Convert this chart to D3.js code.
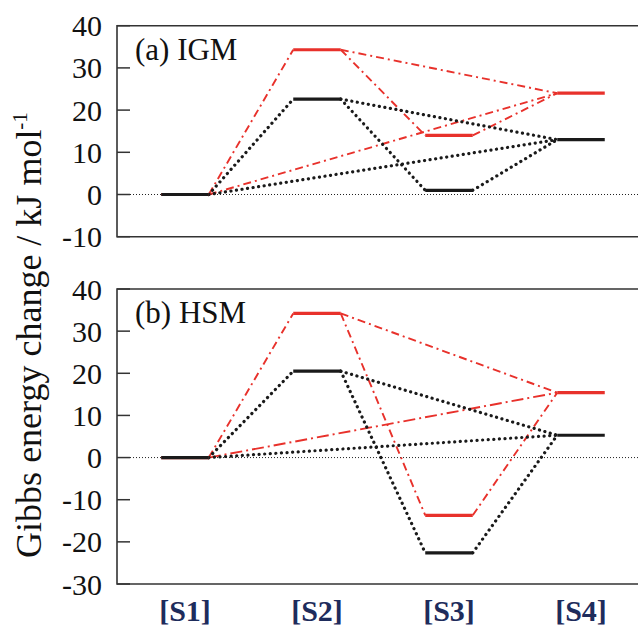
<!DOCTYPE html>
<html lang="en">
  <head>
    <meta charset="utf-8" />
    <title>Gibbs energy change</title>
    <script src="https://cdn.jsdelivr.net/npm/d3@7"></script>
    <style>
      body { margin: 0; background: #fff; }
    </style>
  </head>
  <body>
    <svg id="chart" width="638" height="628"></svg>

    <script>
      // states along the reaction path
      const states = ["[S1]", "[S2]", "[S3]", "[S4]"];
      // Gibbs energy levels, kJ/mol
      const igmRed = [0, 34.3, 14.0, 24.0];
      const igmBlack = [0, 22.6, 1.0, 13.0];
      const hsmRed = [0, 34.2, -13.7, 15.4];
      const hsmBlack = [0, 20.5, -22.6, 5.3];
      // which levels are joined (from, to)
      const links = [[0, 1], [1, 2], [1, 3], [2, 3], [0, 3]];
      const igmTicks = [-10, 0, 10, 20, 30, 40];
      const hsmTicks = [-30, -20, -10, 0, 10, 20, 30, 40];

      const serif = "'Liberation Serif', serif";
      const svg = d3.select("#chart");
      const red = "#e8312b", black = "#1a1a1a", navy = "#1e2c5c";
      const half = 0.18; // half width of a level bar, in x units

      const x = d3.scaleLinear().domain([0.5, 4.5]).range([119, 647]);

      function panel(label, red_vals, black_vals, ticks, yDomain, yRange, longDash) {
        const y = d3.scaleLinear().domain(yDomain).range(yRange);
        const g = svg.append("g");
        const left = x(0.5) - 2;

        // frame (right side falls off the picture)
        g.append("path")
          .attr("d", `M660,${y(yDomain[1])}H${left}V${y(yDomain[0])}H660`)
          .attr("fill", "none")
          .attr("stroke", "#333")
          .attr("stroke-width", 1.6);

        // ticks
        g.selectAll(".tick").data(ticks).enter().append("line")
          .attr("x1", left).attr("x2", left + 13)
          .attr("y1", d => y(d)).attr("y2", d => y(d))
          .attr("stroke", "#333").attr("stroke-width", 1.5);

        g.selectAll(".tl").data(ticks).enter().append("text")
          .attr("x", 102)
          .attr("y", d => y(d))
          .attr("dy", "0.35em")
          .attr("text-anchor", "end")
          .attr("font-family", serif)
          .attr("font-size", 30)
          .attr("fill", "#111")
          .text(d => d);

        // zero line
        g.append("line")
          .attr("x1", left + 13).attr("x2", 640)
          .attr("y1", y(0)).attr("y2", y(0))
          .attr("stroke", "#222").attr("stroke-width", 1)
          .attr("stroke-dasharray", "1,2");

        // connectors
        function connectors(vals, color, dash, width, cap) {
          g.selectAll(null).data(links).enter().append("line")
            .attr("x1", d => x(d[0] + 1 + half))
            .attr("y1", d => y(vals[d[0]]))
            .attr("x2", d => x(d[1] + 1 - half))
            .attr("y2", d => y(vals[d[1]]))
            .attr("stroke", color)
            .attr("stroke-width", width)
            .attr("stroke-linecap", cap)
            .attr("stroke-dasharray", (d, i) => typeof dash === "function" ? dash(d, i) : dash);
        }
        connectors(red_vals, red,
          d => (longDash && d[0] === 0 && d[1] === 3) ? "12,4,2,4" : "8,4,2,4", 1.9, "butt");
        connectors(black_vals, black, "0.1,5.5", 3.2, "round");

        // energy levels
        function levels(vals, color) {
          g.selectAll(null).data(vals).enter().append("line")
            .attr("x1", (d, i) => x(i + 1 - half))
            .attr("x2", (d, i) => x(i + 1 + half))
            .attr("y1", d => y(d)).attr("y2", d => y(d))
            .attr("stroke", color)
            .attr("stroke-width", 3.2);
        }
        levels(red_vals, red);
        levels(black_vals, black);

        g.append("text")
          .attr("x", 135)
          .attr("y", y(yDomain[1]) + 34)
          .attr("font-family", serif)
          .attr("font-size", 31)
          .attr("fill", "#111")
          .text(label);
      }

      panel("(a) IGM", igmRed, igmBlack, igmTicks, [-10, 40], [236.7, 25.7], false);
      panel("(b) HSM", hsmRed, hsmBlack, hsmTicks, [-30, 40], [584, 289], true);

      // state labels
      svg.selectAll(".state").data(states).enter().append("text")
        .attr("x", (d, i) => x(i + 1))
        .attr("y", 621)
        .attr("text-anchor", "middle")
        .attr("font-family", serif)
        .attr("font-size", 30)
        .attr("font-weight", "bold")
        .attr("fill", navy)
        .text(d => d);

      // y axis title
      const title = svg.append("text")
        .attr("transform", "translate(41,335) rotate(-90)")
        .attr("text-anchor", "middle")
        .attr("font-family", serif)
        .attr("font-size", 36)
        .attr("fill", "#111")
        .text("Gibbs energy change / kJ mol");
      title.append("tspan")
        .attr("font-size", 21)
        .attr("dy", -14)
        .text("-1");
    </script>
  </body>
</html>
